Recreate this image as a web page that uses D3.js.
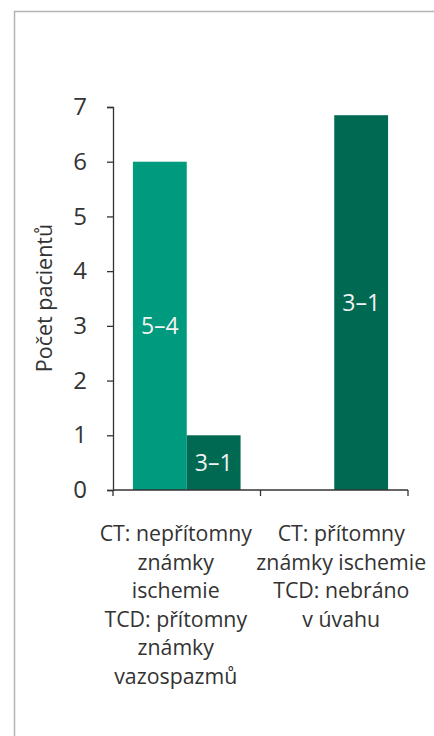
<!DOCTYPE html>
<html>
<head>
<meta charset="utf-8">
<script src="https://cdn.jsdelivr.net/npm/d3@7"></script>
<style>
  body { margin: 0; background: #fff; }
  svg { display: block; font-family: 'Open Sans', 'Noto Sans', sans-serif; }
</style>
</head>
<body>
<svg id="chart" width="434" height="736"></svg>
<script>
// data
const categories = [
  ['CT: nepřítomny', 'známky', 'ischemie', 'TCD: přítomny', 'známky', 'vazospazmů'],
  ['CT: přítomny', 'známky ischemie', 'TCD: nebráno', 'v úvahu'],
]
const series = ['a', 'b']
const valuesA = [6, 0]
const valuesB = [1, 6.85]
const labelsA = ['5–4', '']
const labelsB = ['3–1', '3–1']
const yTicks = [0, 1, 2, 3, 4, 5, 6, 7]
const yTitle = 'Počet pacientů'

window.addEventListener('load', makeChart)
function makeChart() {
  const svg = d3.select('#chart')
  const colors = { a: '#009a7e', b: '#006952' }

  // outer frame (runs off the right and bottom edges)
  svg.append('rect')
    .attr('x', 14.5).attr('y', 11.5)
    .attr('width', 440).attr('height', 740)
    .attr('fill', 'none')
    .attr('stroke', '#b3b3b3')
    .attr('stroke-width', 1.5)

  const x0 = d3.scaleBand().domain(d3.range(categories.length)).range([113, 408])
  const x1 = d3.scaleBand().domain(series).range([0, x0.bandwidth()]).paddingOuter(0.37).paddingInner(0)
  const y = d3.scaleLinear().domain([0, 7]).range([490, 107])

  const rows = categories.map((c, i) => ({
    i, a: valuesA[i], b: valuesB[i], la: labelsA[i], lb: labelsB[i],
  }))

  const g = svg.append('g')
  rows.forEach((r) => {
    series.forEach((s) => {
      const v = r[s]
      if (!v) return
      g.append('rect')
        .attr('x', x0(r.i) + x1(s))
        .attr('y', y(v))
        .attr('width', x1.bandwidth())
        .attr('height', y(0) - y(v))
        .attr('fill', colors[s])
      const lab = s === 'a' ? r.la : r.lb
      if (lab) {
        g.append('text')
          .attr('x', x0(r.i) + x1(s) + x1.bandwidth() / 2)
          .attr('y', (y(v) + y(0)) / 2)
          .attr('dy', '0.35em')
          .attr('text-anchor', 'middle')
          .attr('font-size', 23)
          .attr('fill', '#f2f2f2')
          .text(lab)
      }
    })
  })

  // y axis
  const yAxis = svg.append('g')
    .attr('transform', 'translate(113,0)')
    .call(d3.axisLeft(y).tickValues(yTicks).tickFormat(d3.format('d')).tickSize(6).tickPadding(20))
  yAxis.select('.domain').attr('stroke', '#333').attr('stroke-width', 1.3)
  yAxis.selectAll('.tick line').attr('stroke', '#333').attr('stroke-width', 1.3)
  yAxis.selectAll('.tick text')
    .attr('font-size', 24)
    .attr('font-family', "'Open Sans', 'Noto Sans', sans-serif")
    .attr('fill', '#333')

  // x axis
  const xAxisG = svg.append('g').attr('transform', 'translate(0,490)')
  xAxisG.append('line')
    .attr('x1', 113).attr('x2', 408)
    .attr('stroke', '#333').attr('stroke-width', 1.3)
  const edges = [x0.range()[0]].concat(x0.domain().map((d) => x0(d) + x0.bandwidth()))
  xAxisG.selectAll('.xt').data(edges).enter().append('line')
    .attr('x1', (d) => d).attr('x2', (d) => d)
    .attr('y1', 0).attr('y2', 6)
    .attr('stroke', '#333').attr('stroke-width', 1.3)

  // category labels
  const dxs = [-11, 7]
  categories.forEach((lines, i) => {
    const t = svg.append('text')
      .attr('text-anchor', 'middle')
      .attr('font-size', 21.3)
      .attr('fill', '#333')
    lines.forEach((ln, j) => {
      t.append('tspan')
        .attr('x', x0(i) + x0.bandwidth() / 2 + dxs[i])
        .attr('y', 541 + j * 28.6)
        .text(ln)
    })
  })

  // y title
  svg.append('text')
    .attr('transform', 'translate(52,298) rotate(-90)')
    .attr('text-anchor', 'middle')
    .attr('font-size', 21.5)
    .attr('fill', '#333')
    .text(yTitle)
}
</script>
</body>
</html>
